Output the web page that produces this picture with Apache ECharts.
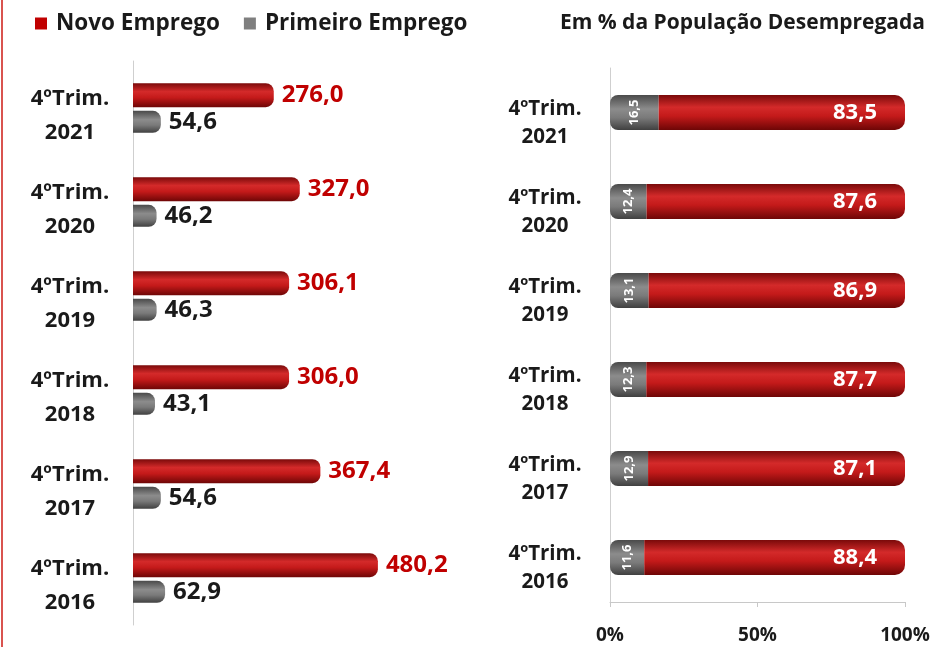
<!DOCTYPE html>
<html><head><meta charset="utf-8">
<script src="https://cdn.jsdelivr.net/npm/echarts@6/dist/echarts.min.js"></script>
<style>html,body{margin:0;padding:0;background:#fff}#c{width:936px;height:647px}</style>
</head><body><div id="c"></div>
<script>
const categories = ['4ºTrim.\n2021','4ºTrim.\n2020','4ºTrim.\n2019','4ºTrim.\n2018','4ºTrim.\n2017','4ºTrim.\n2016'];
const novoEmprego = [276.0, 327.0, 306.1, 306.0, 367.4, 480.2];
const primeiroEmprego = [54.6, 46.2, 46.3, 43.1, 54.6, 62.9];
const pctNovo = [83.5, 87.6, 86.9, 87.7, 87.1, 88.4];
const pctPrimeiro = [16.5, 12.4, 13.1, 12.3, 12.9, 11.6];
const pctTicks = ['0%', '50%', '100%'];

const FONT = 'Open Sans';
const fmt = p => p.value.toFixed(1).replace('.', ',');
const catFmt = v => '{s| }\n' + v.split('\n').map(t => '{a|' + t + '}').join('\n');
const redGrad = new echarts.graphic.LinearGradient(0,0,0,1,[
  {offset:0,color:'#7a0a0a'},{offset:0.35,color:'#d42a2a'},{offset:0.6,color:'#c41a1a'},{offset:1,color:'#6e0606'}]);
const grayGrad = new echarts.graphic.LinearGradient(0,0,0,1,[
  {offset:0,color:'#4a4a4a'},{offset:0.4,color:'#8c8c8c'},{offset:0.65,color:'#7a7a7a'},{offset:1,color:'#404040'}]);

const chart = echarts.init(document.getElementById('c'));
chart.setOption({
  backgroundColor:'#fff',
  animation:false,
  textStyle:{fontFamily:FONT},
  legend:{
    left:30, top:7, itemWidth:12, itemHeight:12, itemGap:24, icon:'rect',
    textStyle:{fontFamily:FONT, fontWeight:'bold', fontSize:22.5, color:'#1a1a1a', padding:[0,0,0,4]},
    data:[{name:'Novo Emprego', itemStyle:{color:'#c00000'}},{name:'Primeiro Emprego', itemStyle:{color:'#7f7f7f'}}]
  },
  title:{
    text:'Em % da População Desempregada', right:6, top:8,
    textStyle:{fontFamily:FONT, fontWeight:'bold', fontSize:21, color:'#1a1a1a'}
  },
  grid:[
    {left:133, top:61, width:255, height:564},
    {left:610, top:68, width:295, height:534}
  ],
  xAxis:[
    {gridIndex:0, type:'value', min:0, max:500, show:false},
    {gridIndex:1, type:'value', min:0, max:100, interval:50,
      axisLine:{show:true, lineStyle:{color:'#c8c8c8'}},
      axisTick:{show:true, length:5, lineStyle:{color:'#c8c8c8'}},
      splitLine:{show:false},
      axisLabel:{formatter:(v)=>pctTicks[v/50], fontFamily:FONT, fontWeight:'bold', fontSize:19, color:'#1a1a1a', margin:24}}
  ],
  yAxis:[
    {gridIndex:0, type:'category', data:categories, inverse:true,
      axisLine:{show:true, lineStyle:{color:'#cfcfcf'}}, axisTick:{show:false},
      axisLabel:{interval:0, align:'center', margin:63, formatter:catFmt,
        rich:{s:{fontSize:4, lineHeight:16}, a:{fontFamily:FONT, fontWeight:'bold', fontSize:22, lineHeight:34, color:'#1a1a1a', align:'center'}}}},
    {gridIndex:1, type:'category', data:categories, inverse:true,
      axisLine:{show:true, lineStyle:{color:'#cfcfcf'}}, axisTick:{show:false},
      axisLabel:{interval:0, align:'center', margin:65, formatter:catFmt,
        rich:{s:{fontSize:4, lineHeight:21}, a:{fontFamily:FONT, fontWeight:'bold', fontSize:20.5, lineHeight:28, color:'#1a1a1a', align:'center'}}}}
  ],
  series:[
    {name:'Novo Emprego', type:'bar', xAxisIndex:0, yAxisIndex:0, data:novoEmprego,
      barWidth:24, barGap:'15%', itemStyle:{color:redGrad, borderRadius:[0,8,8,0]},
      label:{show:true, position:'right', distance:8, formatter:fmt, fontFamily:FONT, fontWeight:'bold', fontSize:24, color:'#c00000'}},
    {name:'Primeiro Emprego', type:'bar', xAxisIndex:0, yAxisIndex:0, data:primeiroEmprego,
      barWidth:22, itemStyle:{color:grayGrad, borderRadius:[0,8,8,0]},
      label:{show:true, position:'right', distance:8, formatter:fmt, fontFamily:FONT, fontWeight:'bold', fontSize:24, color:'#1a1a1a'}},
    {name:'Primeiro Emprego %', type:'bar', stack:'pct', xAxisIndex:1, yAxisIndex:1, data:pctPrimeiro,
      barWidth:35, itemStyle:{color:grayGrad, borderRadius:[8,0,0,8]},
      label:{show:true, position:'inside', rotate:90, formatter:fmt, fontFamily:FONT, fontWeight:'bold', fontSize:13, color:'#fff'}},
    {name:'Novo Emprego %', type:'bar', stack:'pct', xAxisIndex:1, yAxisIndex:1, data:pctNovo,
      barWidth:35, itemStyle:{color:redGrad, borderRadius:[0,10,10,0]},
      label:{show:true, position:'insideRight', distance:28, formatter:fmt, fontFamily:FONT, fontWeight:'bold', fontSize:22, color:'#fff'}}
  ],
  graphic:[
    {type:'rect', left:1, top:0, shape:{width:2, height:647}, style:{fill:'#d9534f'}}
  ]
});
</script></body></html>
